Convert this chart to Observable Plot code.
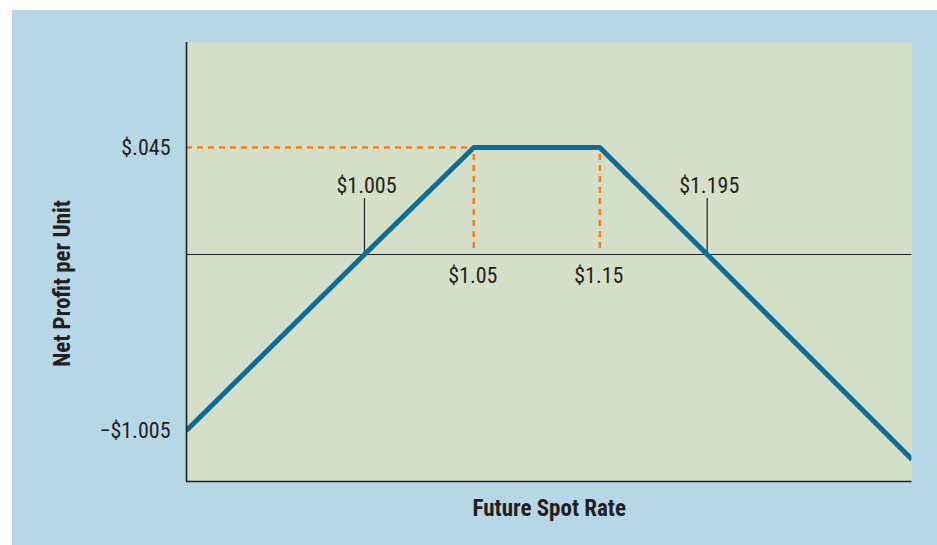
<!DOCTYPE html>
<html><head><meta charset="utf-8">
<script src="https://cdn.jsdelivr.net/npm/d3@7"></script>
<script src="https://cdn.jsdelivr.net/npm/@observablehq/plot@0.6"></script>
<style>
body{margin:0;background:#fff;}
#wrap{position:absolute;left:12px;top:10px;width:925px;height:535px;background:#b7d7e7;}
</style></head><body><div id="wrap"></div>
<script>
// Payoff path (schematic): future spot rate vs net profit per unit
const spotRates = [0, 1.005, 1.05, 1.15, 1.195, 2.366];
const netProfit = [-1.005, 0, 0.045, 0.045, 0, -1.171];
const breakevens = [1.005, 1.195];
const breakevenLabels = ["$1.005", "$1.195"];
const strikes = [1.05, 1.15];
const strikeLabels = ["$1.05", "$1.15"];
const maxProfit = 0.045;
const yTickValues = [0.045, -1.005];
const yTickLabels = ["$.045", "\u2212$1.005"];
const xTitle = "Future Spot Rate";
const yTitle = "Net Profit per Unit";

// The figure is not drawn to scale: piecewise (schematic) axes
const xBreaks = [0, 1.005, 1.05, 1.15, 1.195, 2.366];
const xShare  = [0, 0.2453, 0.3960, 0.5697, 0.7177, 1];
const yBreaks = [-1.296, 0, 0.045, 0.089];
const yShare  = [0, 0.5171, 0.7608, 1];
const xPiece = d3.scaleLinear().domain(xBreaks).range(xShare);
const yPiece = d3.scaleLinear().domain(yBreaks).range(yShare);

const path = spotRates.map((s, i) => ({s, p: netProfit[i]}));
const bk = breakevens.map((b, i) => ({x: b, y1: 0, y2: 0.0235, label: breakevenLabels[i]}));
const st = strikes.map((b, i) => ({x: b, y1: 0.0025, y2: maxProfit, label: strikeLabels[i]}));
const yt = yTickValues.map((v, i) => ({y: v, label: yTickLabels[i]}));

const font = "'Liberation Sans Narrow','Roboto Condensed','DejaVu Sans Condensed',sans-serif";
const blue = "#0a6e9a", orange = "#f4821f", ink = "#231f20";

const chart = Plot.plot({
  width: 925, height: 535,
  marginLeft: 174, marginRight: 25.5, marginTop: 32, marginBottom: 64,
  style: {background: "transparent", fontFamily: font, color: ink},
  x: {transform: xPiece, domain: [0, 1], axis: null},
  y: {transform: yPiece, domain: [0, 1], axis: null},
  marks: [
    Plot.frame({fill: "#d5dec6", stroke: null}),
    Plot.ruleY([0], {stroke: ink, strokeWidth: 1.2}),
    Plot.ruleY([{y: maxProfit, x1: 0, x2: strikes[0]}], {y: "y", x1: "x1", x2: "x2", stroke: orange, strokeWidth: 2.6, strokeDasharray: "6,5"}),
    Plot.ruleX(st, {x: "x", y1: "y1", y2: "y2", stroke: orange, strokeWidth: 2.6, strokeDasharray: "6,5"}),
    Plot.ruleX(bk, {x: "x", y1: "y1", y2: "y2", stroke: ink, strokeWidth: 1.2}),
    Plot.line(path, {x: "s", y: "p", stroke: blue, strokeWidth: 5, strokeLinejoin: "miter", strokeLinecap: "butt", clip: true}),
    Plot.ruleX([0], {stroke: ink, strokeWidth: 1.6}),
    Plot.ruleY([-1.296], {stroke: ink, strokeWidth: 1.6}),
    Plot.text(bk, {x: "x", y: "y2", text: "label", dy: -13, dx: 2, fontSize: 22, fill: ink}),
    Plot.text(st, {x: "x", y: 0, text: "label", dy: 21, dx: -1, fontSize: 22, fill: ink}),
    Plot.text(yt, {x: 0, y: "y", text: "label", textAnchor: "end", dx: -16, dy: 0, fontSize: 22, fill: ink}),
    Plot.text([xTitle], {frameAnchor: "bottom", lineAnchor: "middle", textAnchor: "middle", dy: 27, text: d => d, fontSize: 23, fontWeight: "bold", fill: ink}),
    Plot.text([yTitle], {frameAnchor: "left", lineAnchor: "middle", textAnchor: "middle", dx: -124, dy: 21.5, rotate: -90, text: d => d, fontSize: 23, fontWeight: "bold", fill: ink})
  ]
});
document.getElementById("wrap").appendChild(chart);
</script></body></html>
